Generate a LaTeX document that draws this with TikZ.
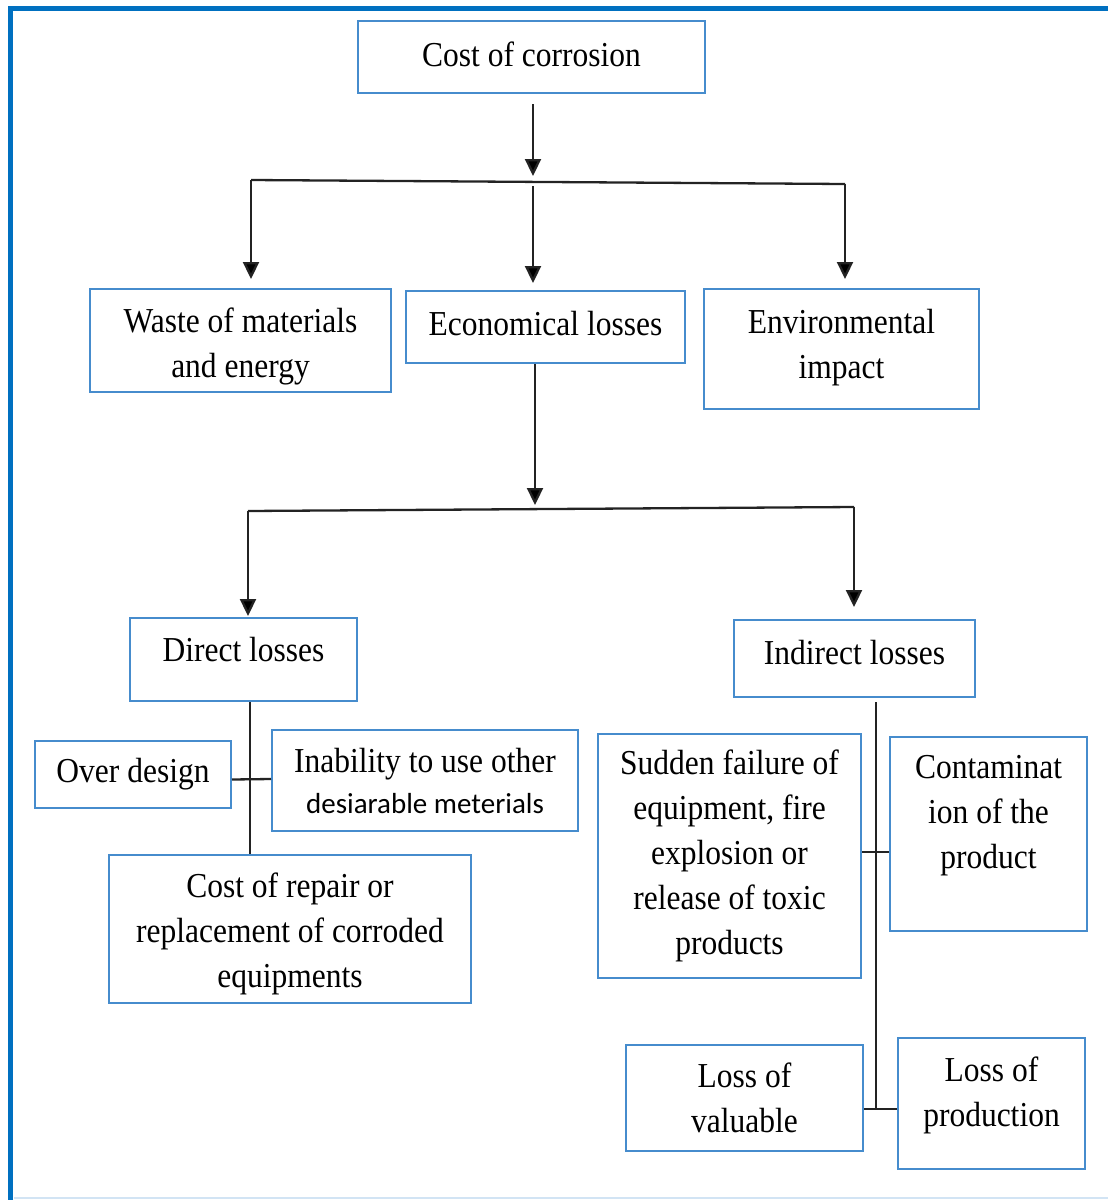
\documentclass[tikz,border=0pt]{standalone}
\usepackage{fontspec}
\setmainfont{Liberation Serif}[FakeStretch=0.9]
\newfontfamily\carl{Carlito}
\usetikzlibrary{arrows.meta}
\definecolor{boxblue}{RGB}{70,140,205}
\definecolor{frameblue}{RGB}{0,112,192}
\definecolor{faintblue}{RGB}{210,228,244}
\definecolor{linegray}{RGB}{35,35,35}
\begin{document}
\begin{tikzpicture}[x=1pt,y=-1pt,
  box/.style={draw=boxblue, line width=2pt, inner sep=0pt, align=center,
    font=\fontsize{35}{45}\selectfont, text=black},
  conn/.style={draw=linegray, line width=2.3pt},
  arr/.style={conn, -{Triangle[length=17pt,width=16pt,fill=black]}}]
\useasboundingbox (0,0) rectangle (1108,1200);
% frame
\draw[frameblue, line width=5pt] (10,1200) -- (10,8) -- (1110,8);
\draw[faintblue, line width=2pt] (14,1198) -- (1108,1198);

% boxes
\node[box, minimum width=347, minimum height=72, text depth=6pt] (cost) at (531.5,57) {Cost of corrosion};
\node[box, minimum width=301, minimum height=103] (waste) at (240.5,340.5) {\rule{0pt}{36pt}Waste of materials\\and energy};
\node[box, minimum width=279, minimum height=72, text depth=8pt] (econ) at (545.5,327) {Economical losses};
\node[box, minimum width=275, minimum height=120] (env) at (841.5,349) {Environmental\\impact\\[-35pt]\mbox{}};
\node[box, minimum width=227, minimum height=83, text depth=20pt] (direct) at (243.5,659.5) {Direct losses};
\node[box, minimum width=241, minimum height=77, text depth=13pt] (indirect) at (854.5,658.5) {Indirect losses};
\node[box, minimum width=196, minimum height=67] (over) at (133,774.5) {Over design};
\node[box, minimum width=306, minimum height=101] (inab) at (425,780.5) {Inability to use other\\[-4pt]{\carl\fontsize{29}{36}\selectfont desiarable meterials}};
\node[box, minimum width=362, minimum height=148] (repair) at (290,929) {\rule{0pt}{34pt}Cost of repair or\\replacement of corroded\\equipments};
\node[box, minimum width=263, minimum height=244] (sudden) at (729.5,856) {Sudden failure of\\equipment, fire\\explosion or\\release of toxic\\products};
\node[box, minimum width=197, minimum height=194] (cont) at (988.5,834) {Contaminat\\ion of the\\product\\\mbox{}};
\node[box, minimum width=237, minimum height=106] (lval) at (744.5,1098) {Loss of\\valuable};
\node[box, minimum width=187, minimum height=131] (lprod) at (991.5,1103.5) {Loss of\\production\\[-21pt]\mbox{}};

% level 1 connectors
\coordinate (j1) at (533,176);
\coordinate (hl1) at (251,180);
\coordinate (hr1) at (845,184);
\coordinate (m1) at (533,186);
\draw[arr, shorten <=10pt] ([xshift=1.5pt]cost.south) -- (j1);
\draw[conn] (hl1) -- (hr1);
\draw[arr, shorten >=9pt] (hl1) -- (waste.north -| hl1);
\draw[arr, shorten >=7pt] (m1) -- (econ.north -| m1);
\draw[arr, shorten >=9pt] (hr1) -- (env.north -| hr1);

% level 2 connectors
\coordinate (j2) at (535,505);
\coordinate (hl2) at (248,511);
\coordinate (hr2) at (854,507);
\draw[arr] ([xshift=-10.5pt]econ.south) -- (j2);
\draw[conn] (hl2) -- (hr2);
\draw[arr, shorten >=1pt] (hl2) -- (direct.north -| hl2);
\draw[arr, shorten >=12pt] (hr2) -- (indirect.north -| hr2);

% direct losses branch
\coordinate (dv) at (250,779);
\draw[conn] (direct.south -| dv) -- (repair.north -| dv);
\draw[conn] ([yshift=-5pt]over.east) -- (inab.west |- dv);

% indirect losses branch
\coordinate (iv) at (876,1109);
\draw[conn, shorten <=4pt] (indirect.south -| iv) -- (iv);
\draw[conn] ([yshift=4pt]sudden.east) -- ([yshift=4pt]sudden.east -| cont.west);
\draw[conn] (lval.east |- iv) -- (lprod.west |- iv);
\end{tikzpicture}
\end{document}
